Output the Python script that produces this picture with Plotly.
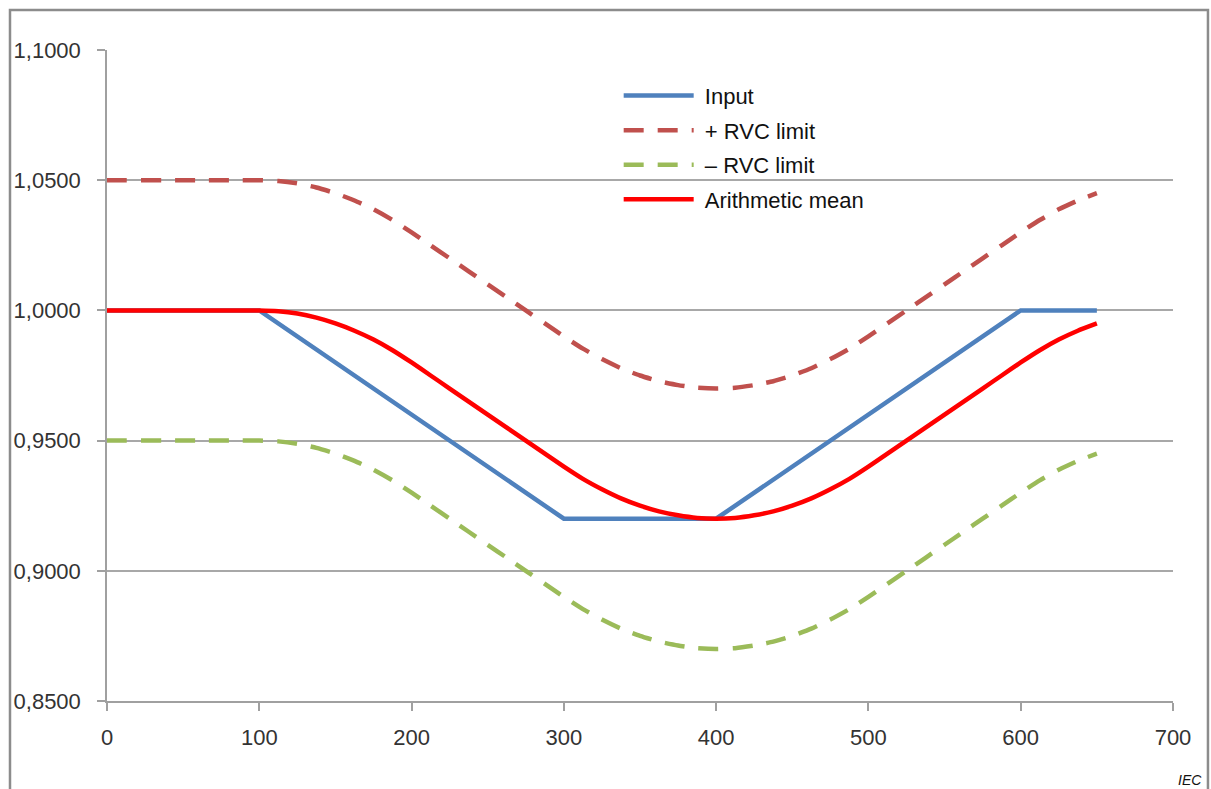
import plotly.graph_objects as go

# ---- data ----
x_input = [0, 100, 300, 400, 600, 650]
y_input = [1.0, 1.0, 0.92, 0.92, 1.0, 1.0]

x_curve = [0, 12.5, 25, 37.5, 50, 62.5, 75, 87.5, 100,
           112.5, 125, 137.5, 150, 162.5, 175, 187.5, 200,
           212.5, 225, 237.5, 250, 262.5, 275, 287.5, 300,
           312.5, 325, 337.5, 350, 362.5, 375, 387.5, 400,
           412.5, 425, 437.5, 450, 462.5, 475, 487.5, 500,
           512.5, 525, 537.5, 550, 562.5, 575, 587.5, 600,
           612.5, 625, 637.5, 650]
y_mean = [1.0, 1.0, 1.0, 1.0, 1.0, 1.0, 1.0, 1.0, 1.0,
          0.9997, 0.9988, 0.9972, 0.995, 0.9922, 0.9888, 0.9847, 0.98,
          0.975, 0.97, 0.965, 0.96, 0.955, 0.95, 0.945, 0.94,
          0.9353, 0.9313, 0.9278, 0.925, 0.9228, 0.9213, 0.9203, 0.92,
          0.9203, 0.9213, 0.9228, 0.925, 0.9278, 0.9313, 0.9353, 0.94,
          0.945, 0.95, 0.955, 0.96, 0.965, 0.97, 0.975, 0.98,
          0.9847, 0.9888, 0.9922, 0.995]
y_upper = [1.05, 1.05, 1.05, 1.05, 1.05, 1.05, 1.05, 1.05, 1.05,
           1.0497, 1.0488, 1.0472, 1.045, 1.0422, 1.0388, 1.0347, 1.03,
           1.025, 1.02, 1.015, 1.01, 1.005, 1.0, 0.995, 0.99,
           0.9853, 0.9813, 0.9778, 0.975, 0.9728, 0.9713, 0.9703, 0.97,
           0.9703, 0.9713, 0.9728, 0.975, 0.9778, 0.9813, 0.9853, 0.99,
           0.995, 1.0, 1.005, 1.01, 1.015, 1.02, 1.025, 1.03,
           1.0347, 1.0388, 1.0422, 1.045]
y_lower = [0.95, 0.95, 0.95, 0.95, 0.95, 0.95, 0.95, 0.95, 0.95,
           0.9497, 0.9488, 0.9472, 0.945, 0.9422, 0.9388, 0.9347, 0.93,
           0.925, 0.92, 0.915, 0.91, 0.905, 0.9, 0.895, 0.89,
           0.8853, 0.8813, 0.8778, 0.875, 0.8728, 0.8713, 0.8703, 0.87,
           0.8703, 0.8713, 0.8728, 0.875, 0.8778, 0.8813, 0.8853, 0.89,
           0.895, 0.9, 0.905, 0.91, 0.915, 0.92, 0.925, 0.93,
           0.9347, 0.9388, 0.9422, 0.945]

y_ticks = [0.85, 0.90, 0.95, 1.00, 1.05, 1.10]
y_tick_labels = ["0,8500", "0,9000", "0,9500", "1,0000", "1,0500", "1,1000"]
x_ticks = [0, 100, 200, 300, 400, 500, 600, 700]

series_names = ["Input", "+ RVC limit", "– RVC limit", "Arithmetic mean"]

FONT = "Liberation Sans, Arial, sans-serif"
NB = "\u00a0"

fig = go.Figure()
fig.add_trace(go.Scatter(x=x_input, y=y_input, mode="lines", name=NB + series_names[0],
                         legendgroup="a",
                         line=dict(color="#4f81bd", width=4.5)))
fig.add_trace(go.Scatter(x=x_curve, y=y_upper, mode="lines", name=NB + series_names[1],
                         legendgroup="b",
                         line=dict(color="#c0504d", width=4.5, dash="20px,14px", shape="spline", smoothing=0.5)))
fig.add_trace(go.Scatter(x=x_curve, y=y_lower, mode="lines", name=NB + series_names[2],
                         legendgroup="c",
                         line=dict(color="#9bbb59", width=4.5, dash="20px,14px", shape="spline", smoothing=0.5)))
fig.add_trace(go.Scatter(x=x_curve, y=y_mean, mode="lines", name=NB + series_names[3],
                         legendgroup="d",
                         line=dict(color="#ff0000", width=4.5, shape="spline", smoothing=0.5)))

fig.update_layout(
    width=1211, height=789,
    margin=dict(l=107, r=38, t=50, b=88),
    paper_bgcolor="white", plot_bgcolor="white",
    font=dict(family=FONT, color="#222222"),
    showlegend=True,
    legend=dict(x=0.48, y=0.962, xanchor="left", yanchor="top",
                bgcolor="rgba(0,0,0,0)", font=dict(size=22, family=FONT, color="#111111"),
                itemwidth=70, tracegroupgap=3, traceorder="grouped"),
    xaxis=dict(range=[0, 700], tickvals=x_ticks, showgrid=False, zeroline=False,
               showline=True, linecolor="#a0a0a0", linewidth=1.5,
               ticks="outside", ticklen=8, tickcolor="#a0a0a0", tickwidth=1.5,
               tickfont=dict(size=22, family=FONT, color="#333333"), ticklabelstandoff=8,
               fixedrange=True),
    yaxis=dict(range=[0.85, 1.10], tickvals=y_ticks, ticktext=y_tick_labels,
               showgrid=True, gridcolor="#a8a8a8", gridwidth=1.5, zeroline=False,
               showline=True, linecolor="#a0a0a0", linewidth=1.5,
               ticks="outside", ticklen=8, tickcolor="#a0a0a0", tickwidth=1.5,
               tickfont=dict(size=22, family=FONT, color="#333333"), ticklabelstandoff=12,
               fixedrange=True),
    shapes=[dict(type="rect", xref="paper", yref="paper",
                 x0=-0.091, x1=1.0328, y0=-0.2, y1=1.0614,
                 line=dict(color="#8c8c8c", width=2.5), fillcolor="rgba(0,0,0,0)", layer="below")],
    annotations=[dict(text="<i>IEC</i>", xref="paper", yref="paper", x=1.028, y=-0.1352,
                      xanchor="right", yanchor="bottom", showarrow=False, borderpad=0,
                      font=dict(size=14, family=FONT, color="#111111"))],
)

fig.write_html("out.html")
